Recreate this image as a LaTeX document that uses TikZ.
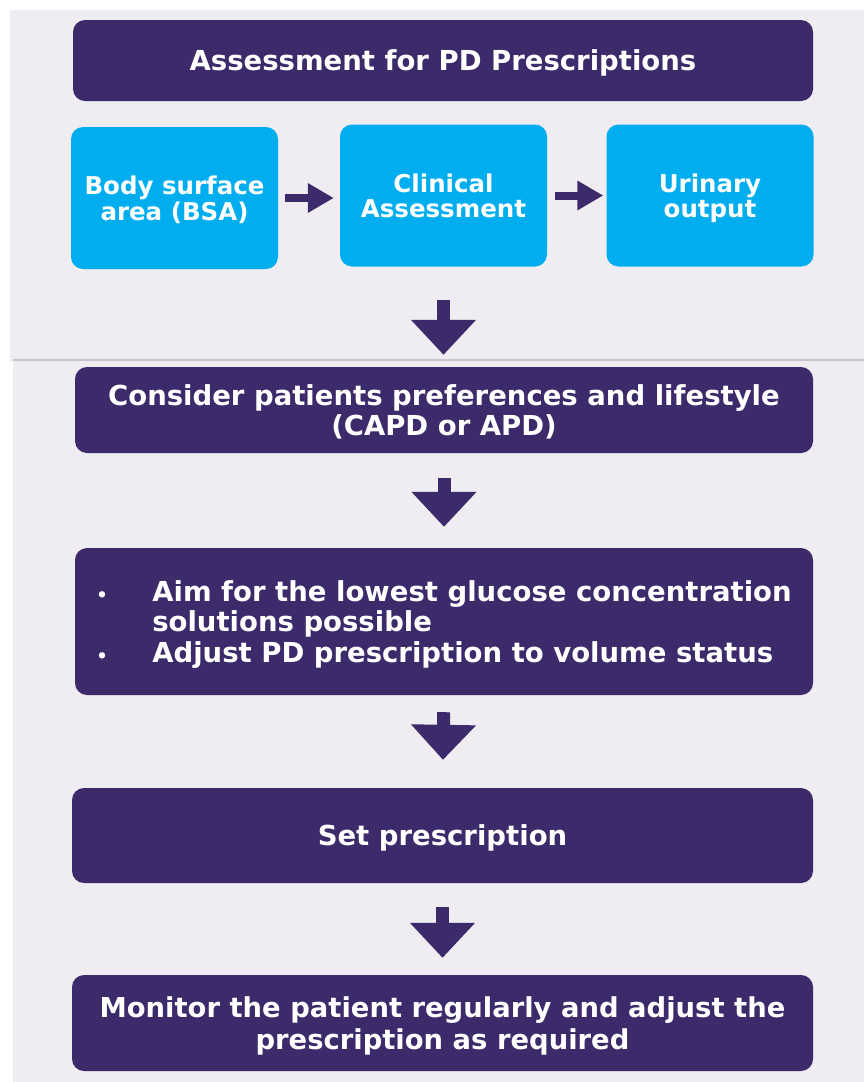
\documentclass[tikz,border=0pt]{standalone}
\usepackage{fontspec}
\setmainfont{DejaVu Sans}
\usetikzlibrary{arrows.meta}
\definecolor{panelbg}{HTML}{EFECF2}
\definecolor{deeppurple}{HTML}{3D2A6B}
\definecolor{skycyan}{HTML}{00AEEF}
\definecolor{sepgray}{HTML}{C6C3CA}
\begin{document}
\begin{tikzpicture}[x=1pt,y=-1pt,
		darkbox/.style={fill=deeppurple,rounded corners=12pt,text=white,align=center,inner sep=0pt,text depth=0pt,
			font=\fontsize{27.5}{30.5}\selectfont\bfseries},
		cyanbox/.style={fill=skycyan,rounded corners=12pt,text=white,align=center,inner sep=0pt,text depth=0pt,
			minimum width=207pt,minimum height=142pt,font=\fontsize{24.5}{25.5}\selectfont\bfseries},
		bigarrow/.style={draw=deeppurple,line width=13pt,-{Triangle[width=63pt,length=35pt]}},
		smallarrow/.style={draw=deeppurple,line width=8pt,-{Triangle[width=28pt,length=26pt]}}]
	% background panels
	\useasboundingbox (0,0) rectangle (864,1082);
	\fill[white] (0,0) rectangle (864,1082);
	\fill[panelbg] (10,10) rectangle (864,362);
	\fill[panelbg] (13,362) rectangle (864,1082);
	\draw[sepgray,line width=1.2pt] (13,360)--(864,360);
	% assessment
	\node[darkbox,minimum width=740pt,minimum height=81pt] (title) at (443,60.5) {Assessment for PD Prescriptions};
	\node[cyanbox] (bsa) at (174.5,198) {Body surface\\area (BSA)};
	\node[cyanbox] (clinical) at (443.5,195.5) {Clinical\\Assessment};
	\node[cyanbox] (urinary) at (710,195.5) {Urinary\\output};
	\draw[smallarrow,shorten <=7pt,shorten >=6pt] (bsa.east)--(bsa.east -| clinical.west);
	\draw[smallarrow,shorten <=8pt,shorten >=3pt] (clinical.east)--(clinical.east -| urinary.west);
	% steps
	\node[darkbox,minimum width=738pt,minimum height=86pt] (consider) at (444,410) {Consider patients preferences and lifestyle\\(CAPD or APD)};
	\node[darkbox,minimum width=738pt,minimum height=147pt,align=left] (aim) at (444,621.5)
		{\makebox[56pt][l]{\fontsize{18}{18}\selectfont\textbullet}Aim for the lowest glucose concentration\\
		\hspace*{56pt}solutions possible\\
		\makebox[56pt][l]{\fontsize{18}{18}\selectfont\textbullet}Adjust PD prescription to volume status};
	\node[darkbox,minimum width=741pt,minimum height=95pt] (setpres) at (442.5,835.5) {Set prescription};
	\node[darkbox,minimum width=741pt,minimum height=96pt,font=\fontsize{27.4}{32}\selectfont\bfseries] (monitor) at (442.5,1023)
		{Monitor the patient regularly and adjust the\\prescription as required};
	\draw[bigarrow,shorten <=33pt,shorten >=12pt] (clinical.south)--(clinical.south |- consider.north);
	\draw[bigarrow,shorten <=25pt,shorten >=21pt] (consider.south)--(aim.north);
	\draw[bigarrow,shorten <=17pt,shorten >=28pt] (aim.south)--(setpres.north);
	\draw[bigarrow,shorten <=24pt,shorten >=17pt] (setpres.south)--(monitor.north);
\end{tikzpicture}
\end{document}
